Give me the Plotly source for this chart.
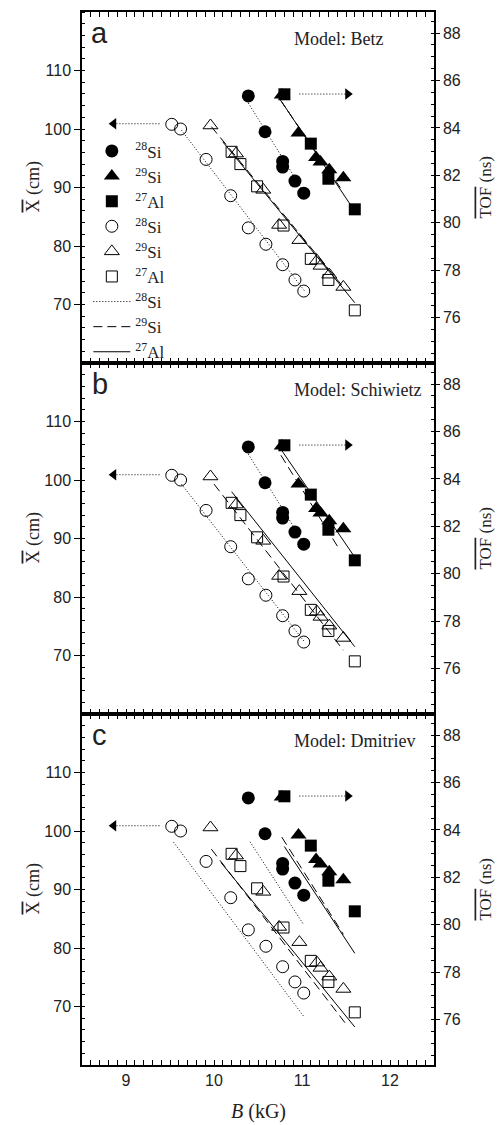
import plotly.graph_objects as go
from plotly.subplots import make_subplots

panel_letters = ["a", "b", "c"]
model_names = ["Betz", "Schiwietz", "Dmitriev"]

# Measured mean TOF (right axis, filled symbols)
si28_tof_B = [10.39, 10.58, 10.78, 10.78, 10.92, 11.02]
si28_tof = [85.35, 83.84, 82.59, 82.35, 81.76, 81.25]
si29_tof_B = [10.77, 10.96, 11.16, 11.21, 11.31, 11.47]
si29_tof = [85.39, 83.79, 82.75, 82.57, 82.24, 81.90]
al27_tof_B = [10.80, 11.10, 11.30, 11.60]
al27_tof = [85.42, 83.34, 81.86, 80.57]

# Measured mean X (left axis, open symbols)
si28_x_B = [9.52, 9.62, 9.91, 10.19, 10.39, 10.59, 10.78, 10.92, 11.02]
si28_x = [100.8, 100.0, 94.8, 88.6, 83.1, 80.3, 76.8, 74.2, 72.3]
si29_x_B = [9.96, 10.25, 10.56, 10.74, 10.97, 11.17, 11.21, 11.31, 11.47]
si29_x = [100.6, 95.8, 89.6, 83.6, 81.0, 77.5, 76.6, 75.1, 73.0]
al27_x_B = [10.20, 10.30, 10.49, 10.79, 11.10, 11.30, 11.60]
al27_x = [96.1, 94.0, 90.2, 83.5, 77.8, 74.2, 69.0]

# Model curves (per panel: Betz, Schiwietz, Dmitriev) - X (left axis)
fit_si28_x_B = [[9.63, 11.03], [9.63, 11.03], [9.54, 11.02]]
fit_si28_x = [[99.8, 72.3], [99.3, 72.3], [98.1, 68.3]]
fit_si29_x_B = [[9.97, 11.49], [10.00, 11.47], [9.97, 11.49]]
fit_si29_x = [[100.4, 72.6], [99.3, 70.9], [96.9, 67.2]]
fit_al27_x_B = [[10.10, 11.60], [10.20, 11.60], [10.08, 11.60]]
fit_al27_x = [[97.8, 70.3], [98.0, 71.5], [94.6, 66.5]]
# Model curves - TOF (right axis)
fit_si28_t_B = [[10.39, 11.02], [10.39, 11.02], [10.41, 11.02]]
fit_si28_t = [[85.05, 81.3], [85.05, 81.3], [83.5, 80.0]]
fit_si29_t_B = [[10.75, 11.45], [10.76, 11.43], [10.77, 11.47]]
fit_si29_t = [[85.2, 81.4], [85.0, 81.0], [83.7, 79.6]]
fit_al27_t_B = [[10.77, 11.58], [10.77, 11.60], [10.80, 11.60]]
fit_al27_t = [[85.1, 80.6], [85.2, 80.7], [83.3, 78.8]]

# Axis-indicator arrows
arrow_left_B = [9.38, 8.86]
arrow_left_x = [100.9, 100.9]
arrow_right_B = [10.97, 11.52]
arrow_right_t = [85.43, 85.43]

SERIF = "Liberation Serif"
SANS = "Liberation Sans"
DOT = "1px,2px"
DASH = "9px,5px"
TXT = "#222"

fig = make_subplots(rows=3, cols=1, shared_xaxes=True, vertical_spacing=0,
                    specs=[[{"secondary_y": True}]] * 3)

line_sets = [
    ("<sup>28</sup>Si", DOT, fit_si28_x_B, fit_si28_x, fit_si28_t_B, fit_si28_t, 7),
    ("<sup>29</sup>Si", DASH, fit_si29_x_B, fit_si29_x, fit_si29_t_B, fit_si29_t, 8),
    ("<sup>27</sup>Al", "solid", fit_al27_x_B, fit_al27_x, fit_al27_t_B, fit_al27_t, 9),
]
open_sets = [
    ("<sup>28</sup>Si", "circle-open", 12, si28_x_B, si28_x, 4),
    ("<sup>29</sup>Si", "triangle-up-open", 13, si29_x_B, si29_x, 5),
    ("<sup>27</sup>Al", "square-open", 11, al27_x_B, al27_x, 6),
]
filled_sets = [
    ("<sup>28</sup>Si", "circle", 13, si28_tof_B, si28_tof, 1),
    ("<sup>29</sup>Si", "triangle-up", 14, si29_tof_B, si29_tof, 2),
    ("<sup>27</sup>Al", "square", 12, al27_tof_B, al27_tof, 3),
]

for p in range(3):
    row = p + 1
    first = (p == 0)
    for name, dash, xb, xv, tb, tv, rank in line_sets:
        fig.add_trace(go.Scatter(x=xb[p], y=xv[p], mode="lines", name=name,
                                 line=dict(color="black", width=1, dash=dash),
                                 showlegend=first, legendrank=rank),
                      row=row, col=1, secondary_y=False)
        fig.add_trace(go.Scatter(x=tb[p], y=tv[p], mode="lines", name=name,
                                 line=dict(color="black", width=1, dash=dash),
                                 showlegend=False),
                      row=row, col=1, secondary_y=True)
    fig.add_trace(go.Scatter(x=arrow_left_B, y=arrow_left_x, mode="lines",
                             line=dict(color="black", width=1, dash=DOT), showlegend=False),
                  row=row, col=1, secondary_y=False)
    fig.add_trace(go.Scatter(x=arrow_left_B[-1:], y=arrow_left_x[-1:], mode="markers",
                             marker=dict(symbol="triangle-left", size=10, color="black"),
                             showlegend=False),
                  row=row, col=1, secondary_y=False)
    fig.add_trace(go.Scatter(x=arrow_right_B, y=arrow_right_t, mode="lines",
                             line=dict(color="black", width=1, dash=DOT), showlegend=False),
                  row=row, col=1, secondary_y=True)
    fig.add_trace(go.Scatter(x=arrow_right_B[-1:], y=arrow_right_t[-1:], mode="markers",
                             marker=dict(symbol="triangle-right", size=10, color="black"),
                             showlegend=False),
                  row=row, col=1, secondary_y=True)
    for name, sym, size, xb, xv, rank in open_sets:
        fig.add_trace(go.Scatter(x=xb, y=xv, mode="markers", name=name,
                                 marker=dict(symbol=sym, size=size, color="black",
                                             line=dict(width=1, color="black")),
                                 showlegend=first, legendrank=rank),
                      row=row, col=1, secondary_y=False)
    for name, sym, size, tb, tv, rank in filled_sets:
        fig.add_trace(go.Scatter(x=tb, y=tv, mode="markers", name=name,
                                 marker=dict(symbol=sym, size=size, color="black",
                                             line=dict(width=0)),
                                 showlegend=first, legendrank=rank),
                      row=row, col=1, secondary_y=True)

axis_common = dict(showline=True, linecolor="black", linewidth=1.5, showgrid=False,
                   zeroline=False, tickcolor="black", tickwidth=1.2, automargin=False,
                   tickfont=dict(family=SANS, size=16, color=TXT))

for p in range(3):
    row = p + 1
    fig.update_xaxes(range=[8.5, 12.5], domain=[0, 1], dtick=1, tick0=0, ticks="inside",
                     ticklen=5, mirror="allticks",
                     minor=dict(dtick=0.1, tick0=0, ticks="inside", ticklen=3,
                                tickcolor="black", tickwidth=1),
                     row=row, col=1, **axis_common)
    fig.update_yaxes(range=[60, 120], tickvals=[70, 80, 90, 100, 110], ticks="outside",
                     ticklen=6,
                     minor=dict(dtick=2, tick0=0, ticks="inside", ticklen=3,
                                tickcolor="black", tickwidth=1),
                     row=row, col=1, secondary_y=False, **axis_common)
    fig.update_yaxes(range=[74.09, 88.89], dtick=2, tick0=0, ticks="outside", ticklen=4,
                     minor=dict(dtick=0.5, tick0=0, ticks="inside", ticklen=3,
                                tickcolor="black", tickwidth=1),
                     row=row, col=1, secondary_y=True, **axis_common)

xrefs = ["x", "x2", "x3"]
yrefs = ["y", "y3", "y5"]
for p in range(3):
    dx = xrefs[p] + " domain"
    dy = yrefs[p] + " domain"
    fig.add_annotation(x=0.05, y=0.94, xref=dx, yref=dy,
                       text=panel_letters[p], showarrow=False, xanchor="center", yanchor="middle",
                       font=dict(family=SANS, size=29, color=TXT))
    fig.add_annotation(x=0.598, y=0.922, xref=dx, yref=dy,
                       text="Model: " + model_names[p], showarrow=False, xanchor="left",
                       yanchor="middle", font=dict(family=SERIF, size=18, color=TXT))
    fig.add_annotation(x=-0.139, y=0.5, xref=dx, yref=dy, textangle=-90,
                       text="<span style='text-decoration:overline'>X</span> (cm)",
                       showarrow=False, xanchor="center", yanchor="middle",
                       font=dict(family=SERIF, size=18, color=TXT))
    fig.add_annotation(x=1.145, y=0.5, xref=dx, yref=dy, textangle=-90,
                       text="<span style='text-decoration:overline'>TOF</span> (ns)",
                       showarrow=False, xanchor="center", yanchor="middle",
                       font=dict(family=SERIF, size=17, color=TXT))

fig.add_annotation(x=0.5, y=-0.0446, xref="paper", yref="paper",
                   text="<i>B</i> (kG)", showarrow=False, xanchor="center", yanchor="middle",
                   font=dict(family=SERIF, size=20, color=TXT))

fig.update_layout(
    template="none",
    width=502, height=1125, autosize=False,
    margin=dict(l=82, r=68, t=12, b=60),
    plot_bgcolor="white", paper_bgcolor="white",
    showlegend=True,
    legend=dict(x=0.018, y=0.8847, xanchor="left", yanchor="top",
                font=dict(family=SERIF, size=17, color=TXT), itemwidth=37,
                bgcolor="rgba(0,0,0,0)", borderwidth=0, tracegroupgap=0,
                traceorder="normal"),
)

fig.write_html("out.html", config={"displayModeBar": False})
